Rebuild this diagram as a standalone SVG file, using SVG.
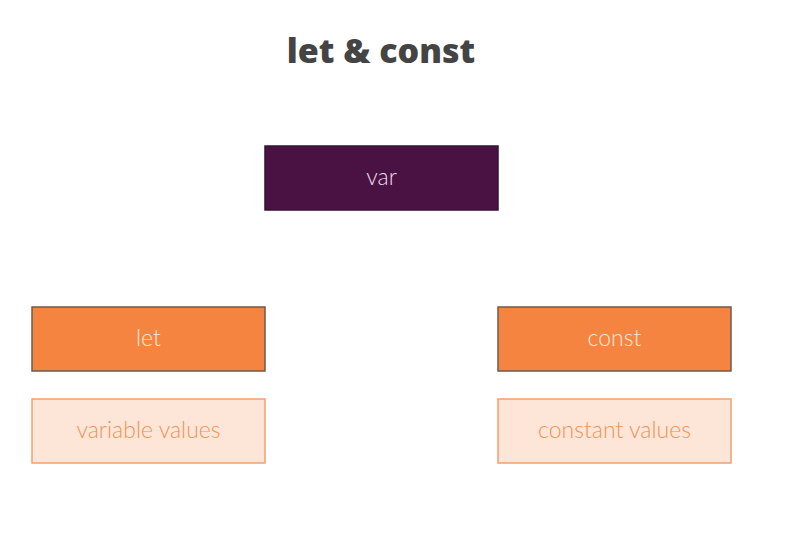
<svg xmlns="http://www.w3.org/2000/svg" width="802" height="534" viewBox="0 0 802 534">
  <style>
    .title { font-family: "Open Sans", Lato, "Liberation Sans", sans-serif; font-weight: 800; font-size: 34px; fill: #444444; }
    .label { font-family: Lato, "Open Sans", "Liberation Sans", sans-serif; font-weight: 300; font-size: 23px; text-anchor: middle; dominant-baseline: central; }
    .dark { fill: #4a1242; stroke: #3a1035; stroke-width: 1.5; }
    .dark-text { fill: #eadcea; }
    .solid { fill: #f4843f; stroke: #6e5a4e; stroke-width: 1.5; }
    .solid-text { fill: #fdeadf; }
    .pale { fill: #fde5d7; stroke: #f3a06c; stroke-width: 1.5; }
    .pale-text { fill: #ef9455; }
  </style>
  <rect width="802" height="534" fill="#ffffff"/>
  <text class="title" x="381" y="63" text-anchor="middle">let &amp; const</text>

  <g id="connectors"></g>

  <g id="node-var">
    <rect class="dark" x="265" y="146" width="233" height="64"/>
    <text class="label dark-text" x="381.5" y="176">var</text>
  </g>
  <g id="node-let">
    <rect class="solid" x="32" y="307" width="233" height="64"/>
    <text class="label solid-text" x="148.5" y="337">let</text>
  </g>
  <g id="node-variable-values">
    <rect class="pale" x="32" y="399" width="233" height="64"/>
    <text class="label pale-text" x="148.5" y="429">variable values</text>
  </g>
  <g id="node-const">
    <rect class="solid" x="498" y="307" width="233" height="64"/>
    <text class="label solid-text" x="614.5" y="337">const</text>
  </g>
  <g id="node-constant-values">
    <rect class="pale" x="498" y="399" width="233" height="64"/>
    <text class="label pale-text" x="614.5" y="429">constant values</text>
  </g>
</svg>
